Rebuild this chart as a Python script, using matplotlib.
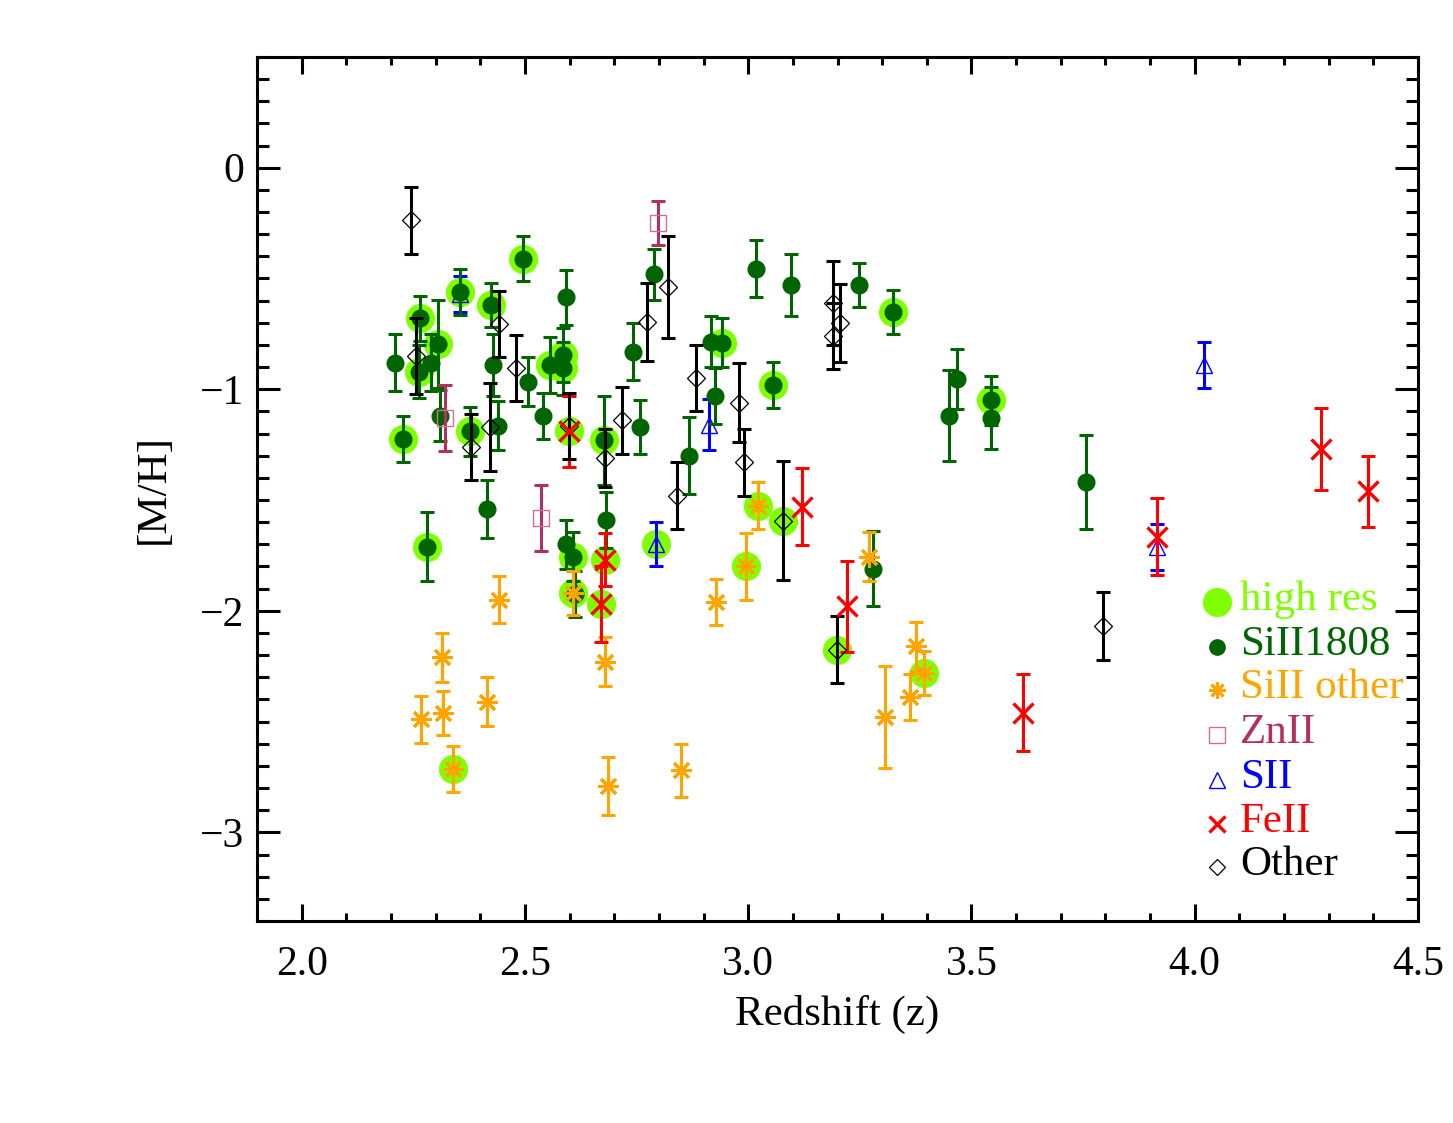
import matplotlib
matplotlib.use('Agg')
import matplotlib.pyplot as plt
from matplotlib.ticker import MultipleLocator

plt.rcParams['font.family'] = ['Liberation Serif', 'DejaVu Serif']

# ---------------- data ----------------
# SiII 1808 (dark green filled circles)
si1808_z = [2.208, 2.228, 2.262, 2.266, 2.289, 2.305, 2.309, 2.280, 2.354, 2.376,
            2.416, 2.425, 2.428, 2.440, 2.496, 2.506, 2.540, 2.556, 2.585, 2.585,
            2.593, 2.592, 2.607, 2.612, 2.676, 2.682, 2.741, 2.757, 2.790, 2.868,
            2.917, 2.942, 2.926, 3.018, 3.056, 3.096, 3.248, 3.280, 3.324, 3.450,
            3.467, 3.543, 3.543, 3.756]
si1808_m = [-0.88, -1.225, -0.92, -0.68, -0.88, -0.795, -1.12, -1.71, -0.56, -1.19,
            -1.54, -0.62, -0.89, -1.165, -0.41, -0.965, -1.12, -0.89, -0.845, -0.905,
            -0.585, -1.70, -1.755, -1.925, -1.23, -1.59, -0.83, -1.17, -0.48, -1.30,
            -0.785, -0.79, -1.03, -0.455, -0.98, -0.53, -0.53, -1.81, -0.65, -1.12,
            -0.955, -1.05, -1.13, -1.42]
si1808_e = [0.13, 0.105, 0.12, 0.10, 0.13, 0.20, 0.115, 0.155, 0.105, 0.11,
            0.13, 0.10, 0.14, 0.11, 0.10, 0.11, 0.105, 0.125, 0.12, 0.12,
            0.125, 0.11, 0.11, 0.105, 0.20, 0.125, 0.13, 0.12, 0.115, 0.175,
            0.115, 0.11, 0.125, 0.13, 0.105, 0.14, 0.10, 0.17, 0.10, 0.205,
            0.135, 0.11, 0.14, 0.213]

# SiII other transitions (orange asterisks)
siother_z = [2.268, 2.315, 2.316, 2.338, 2.414, 2.443, 2.607, 2.680, 2.685, 2.850,
             2.928, 2.995, 3.022, 3.271, 3.307, 3.362, 3.376, 3.394]
siother_m = [-2.49, -2.21, -2.46, -2.715, -2.41, -1.95, -1.92, -2.23, -2.79, -2.72,
             -1.96, -1.80, -1.525, -1.755, -2.48, -2.39, -2.16, -2.28]
siother_e = [0.105, 0.11, 0.10, 0.105, 0.11, 0.105, 0.10, 0.11, 0.13, 0.12,
             0.105, 0.15, 0.105, 0.11, 0.23, 0.105, 0.11, 0.10]

# ZnII (open squares)
znii_z = [2.320, 2.535, 2.799]
znii_m = [-1.13, -1.58, -0.25]
znii_e = [0.15, 0.15, 0.10]

# SII (open triangles)
sii_z = [2.354, 2.794, 2.913, 3.915, 4.020]
sii_m = [-0.57, -1.70, -1.16, -1.71, -0.89]
sii_e = [0.08, 0.10, 0.115, 0.104, 0.105]

# FeII (red crosses)
feii_z = [2.598, 2.680, 2.670, 3.120, 3.221, 3.615, 3.915, 4.282, 4.389]
feii_m = [-1.19, -1.77, -1.97, -1.53, -1.98, -2.46, -1.665, -1.27, -1.46]
feii_e = [0.16, 0.12, 0.17, 0.175, 0.205, 0.175, 0.175, 0.185, 0.16]

# Other (open diamonds)
other_z = [2.244, 2.257, 2.380, 2.421, 2.441, 2.481, 2.598, 2.680, 2.718, 2.773,
           2.820, 2.840, 2.883, 2.980, 2.990, 3.077, 3.190, 3.190, 3.205, 3.198,
           3.794]
other_m = [-0.238, -0.85, -1.26, -1.17, -0.705, -0.905, -1.165, -1.31, -1.14, -0.695,
           -0.54, -1.48, -0.95, -1.06, -1.33, -1.593, -0.61, -0.76, -0.70, -2.175,
           -2.067]
other_e = [0.15, 0.17, 0.15, 0.20, 0.15, 0.15, 0.15, 0.13, 0.15, 0.176,
           0.23, 0.15, 0.15, 0.18, 0.15, 0.27, 0.19, 0.15, 0.175, 0.15,
           0.153]

# High-resolution measurements (light green halos)
hires_z = [2.228, 2.262, 2.266, 2.305, 2.280, 2.354, 2.376, 2.425, 2.496, 2.556,
           2.585, 2.585, 2.607, 2.607, 2.676, 2.942, 3.056, 3.324, 3.543,
           2.338, 2.995, 3.022, 3.394, 2.598, 2.680, 2.670, 2.794, 3.077, 3.198]
hires_m = [-1.225, -0.92, -0.68, -0.795, -1.71, -0.56, -1.19, -0.62, -0.41, -0.89,
           -0.845, -0.905, -1.755, -1.92, -1.23, -0.79, -0.98, -0.65, -1.05,
           -2.715, -1.80, -1.525, -2.28, -1.19, -1.77, -1.97, -1.70, -1.593, -2.175]

legend_labels = ['high res', 'SiII1808', 'SiII other', 'ZnII', 'SII', 'FeII', 'Other']

# ---------------- styling ----------------
C_HI = '#7FFF00'
C_SI = '#006400'
C_OR = '#FFA500'
C_ZN = '#B03060'
C_ZN_M = '#CC7099'
C_S = '#0000FF'
C_FE = '#FF0000'
C_OT = '#000000'
ASTER = (8, 2, 0)

fig = plt.figure(figsize=(14.53, 11.23), dpi=100)
ax = fig.add_axes([0.1769, 0.1799, 0.7990, 0.7694])

ebkw = dict(elinewidth=2.2, capsize=5, capthick=2.2)

ax.plot(hires_z, hires_m, 'o', ms=21, color=C_HI, mec='none', zorder=1)

ax.errorbar(sii_z, sii_m, yerr=sii_e, fmt='none', ecolor=C_S, zorder=2, **ebkw)
ax.plot(sii_z, sii_m, ls='none', marker='^', ms=12, mfc='none', mec=C_S, mew=1.0, zorder=2.5)
ax.errorbar(si1808_z, si1808_m, yerr=si1808_e, fmt='o', ms=12, color=C_SI,
            ecolor=C_SI, mec=C_SI, zorder=3, **ebkw)
ax.errorbar(siother_z, siother_m, yerr=siother_e, fmt='none', ecolor=C_OR, zorder=3, **ebkw)
ax.plot(siother_z, siother_m, ls='none', marker=ASTER, ms=15, mew=2.2, color=C_OR, zorder=4)
ax.errorbar(znii_z, znii_m, yerr=znii_e, fmt='none', ecolor=C_ZN, zorder=3.5, **ebkw)
ax.plot(znii_z, znii_m, ls='none', marker='s', ms=12, mfc='none', mec=C_ZN_M, mew=1.0, zorder=4)
ax.errorbar(feii_z, feii_m, yerr=feii_e, fmt='none', ecolor=C_FE, zorder=3, **ebkw)
ax.errorbar(other_z, other_m, yerr=other_e, fmt='none', ecolor=C_OT, zorder=4, **ebkw)
ax.plot(other_z, other_m, ls='none', marker='D', ms=9, mfc='none', mec=C_OT, mew=0.9, zorder=5)
ax.plot(feii_z, feii_m, ls='none', marker='x', ms=14, mew=2.4, color=C_FE, zorder=6)

ax.set_xlim(1.9, 4.5)
ax.set_ylim(-3.4, 0.5)
ax.xaxis.set_major_locator(MultipleLocator(0.5))
ax.xaxis.set_minor_locator(MultipleLocator(0.1))
ax.yaxis.set_major_locator(MultipleLocator(1.0))
ax.yaxis.set_minor_locator(MultipleLocator(0.1))
ax.xaxis.set_major_formatter(plt.FuncFormatter(lambda v, p: f'{v:.1f}'))
ax.yaxis.set_major_formatter(plt.FuncFormatter(lambda v, p: f'{int(round(v))}'.replace('-', '\u2212')))

for s in ax.spines.values():
    s.set_linewidth(2.2)
ax.tick_params(which='both', direction='in', top=True, right=True, width=2.2, labelsize=30)
ax.tick_params(axis='x', which='major', length=12, pad=18)
ax.tick_params(axis='x', which='minor', length=6)
ax.tick_params(axis='y', which='major', length=16.5, pad=9)
ax.tick_params(axis='y', which='minor', length=8.5)

ax.set_xlabel('Redshift (z)', fontsize=31)
ax.set_ylabel('[M/H]', fontsize=31)
ax.xaxis.set_label_coords(0.5, -0.086)
ax.yaxis.set_label_coords(-0.073, 0.5)

# ---------------- legend (drawn manually) ----------------
leg_colors = [C_HI, C_SI, C_OR, C_ZN, C_S, C_FE, C_OT]
baselines_px = [610, 655, 698, 743, 788, 832, 875]
x_mark = (1217 - 257) / 1161
x_text = (1240 - 257) / 1161
marker_specs = [
    dict(marker='o', ms=21, color=C_HI, mec='none'),
    dict(marker='o', ms=11, color=C_SI, mec=C_SI),
    dict(marker=ASTER, ms=12, mew=2.0, color=C_OR),
    dict(marker='s', ms=11, mfc='none', mec=C_ZN_M, mew=1.0),
    dict(marker='^', ms=12, mfc='none', mec=C_S, mew=1.0),
    dict(marker='x', ms=12, mew=2.4, color=C_FE),
    dict(marker='D', ms=8, mfc='none', mec=C_OT, mew=0.9),
]
for lab, col, bpx, spec in zip(legend_labels, leg_colors, baselines_px, marker_specs):
    yb = (921 - bpx) / 864
    ym = (921 - (bpx - 8)) / 864
    ax.plot([x_mark], [ym], ls='none', transform=ax.transAxes, clip_on=False, zorder=7, **spec)
    ax.text(x_text, yb, lab, color=col, fontsize=31, va='baseline', ha='left',
            transform=ax.transAxes, zorder=7)

fig.savefig('out.png', dpi=100)
